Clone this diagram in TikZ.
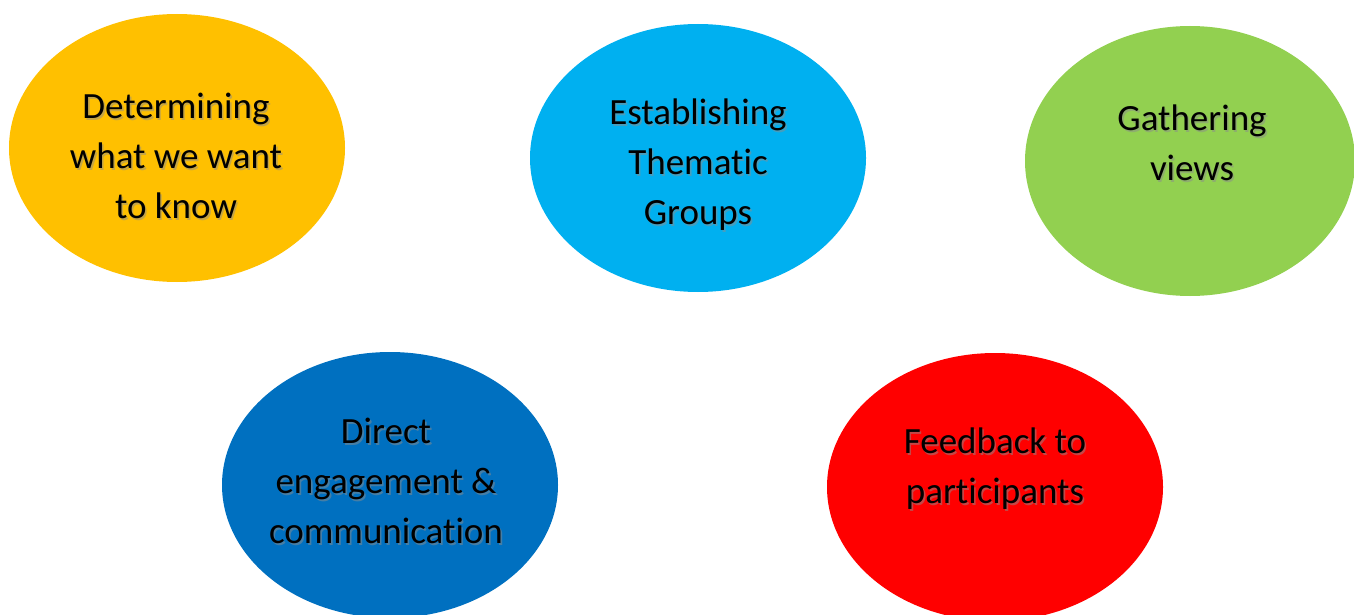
\documentclass[tikz,border=0pt]{standalone}
\usepackage{fontspec}
\setmainfont[Ligatures=NoCommon]{Carlito}
\definecolor{cyellow}{HTML}{FFC000}
\definecolor{clblue}{HTML}{00B0F0}
\definecolor{cgreen}{HTML}{92D050}
\definecolor{cdblue}{HTML}{0070C0}
\definecolor{cred}{HTML}{FF0000}
\tikzset{
  blob/.style={draw=none},
  lbl/.style={align=center, font=\fontsize{37}{50}\selectfont, text=black, inner sep=0pt},
  shd/.style={align=center, font=\fontsize{37}{50}\selectfont, text=black!45, opacity=0.5, inner sep=0pt}
}
\newcommand{\mylabel}[3]{%
  \node[shd] at ($(#1)+(1.6,1.6)$) {#3};
  \node[lbl] (#2) at (#1) {#3};}
\usetikzlibrary{calc}
\begin{document}
\begin{tikzpicture}[x=1pt,y=-1pt]
\useasboundingbox (0,0) rectangle (1354,615);
\clip (0,0) rectangle (1354,615);
\fill[cyellow] (177,148) ellipse [x radius=168, y radius=134];
\fill[clblue] (698,158) ellipse [x radius=168, y radius=134];
\fill[cgreen] (1190,161) ellipse [x radius=165, y radius=135];
\fill[cdblue] (390,485) ellipse [x radius=168, y radius=133];
\fill[cred] (995,487) ellipse [x radius=168, y radius=134];
\coordinate (t1) at (176,156);
\coordinate (t2) at (698,165);
\coordinate (t3) at (1192,143);
\coordinate (t4) at (386,481);
\coordinate (t5) at (995,469);
\mylabel{t1}{l1}{Determining\\what we want\\to know}
\mylabel{t2}{l2}{Establishing\\Thematic\\Groups}
\mylabel{t3}{l3}{Gathering\\views}
\mylabel{t4}{l4}{Direct\\engagement \&\\communicat\kern0pt ion}
\mylabel{t5}{l5}{Feedback to\\participants}
\end{tikzpicture}
\end{document}
